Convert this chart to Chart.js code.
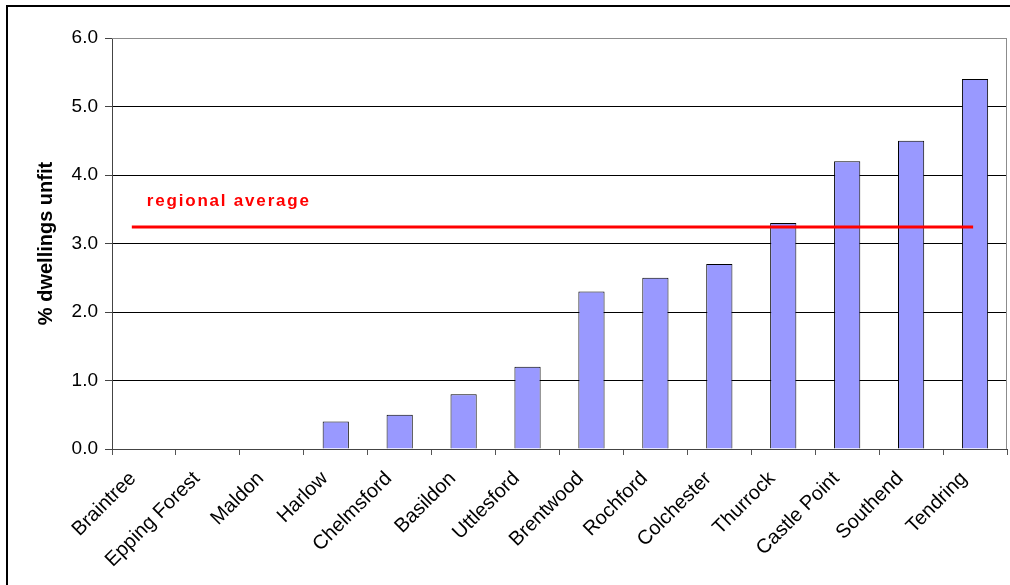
<!DOCTYPE html>
<html>
<head>
<meta charset="utf-8">
<title>Unfit dwellings by district</title>
<script src="https://cdn.jsdelivr.net/npm/chart.js@4.4.0/dist/chart.umd.min.js"></script>
<style>
    html, body { margin: 0; padding: 0; background: #fff; overflow: hidden; }
    #wrap { position: relative; width: 1010px; height: 585px; }
    #frame { position: absolute; left: 6px; top: 5px; width: 1100px; height: 700px; border: 2px solid #000; }
    #chart { position: absolute; left: 0; top: 0; }
</style>
</head>
<body>
<div id="wrap">
    <div id="frame"></div>
    <canvas id="chart" width="1010" height="585"></canvas>
</div>
<script>
    // Districts, sorted by share of unfit dwellings
    const districts = ['Braintree', 'Epping Forest', 'Maldon', 'Harlow', 'Chelmsford', 'Basildon',
        'Uttlesford', 'Brentwood', 'Rochford', 'Colchester', 'Thurrock', 'Castle Point', 'Southend', 'Tendring'];
    const unfitPct = [0, 0, 0, 0.4, 0.5, 0.8, 1.2, 2.3, 2.5, 2.7, 3.3, 4.2, 4.5, 5.4];

    // Regional average, and the span of the reference line in category units
    const regionalAvg = 3.24;
    const avgSpan = [-0.19, 12.97];

    const yTicks = [0, 1, 2, 3, 4, 5, 6];

    const FONT = 'Arial, "Liberation Sans", sans-serif';

    // Gray frame on top/right of the plot area, like the old spreadsheet charts
    const plotFrame = {
        id: 'plotFrame',
        beforeDatasetsDraw(chart) {
            const { ctx, chartArea: a } = chart;
            ctx.save();
            ctx.strokeStyle = '#8c8c8c';
            ctx.lineWidth = 1;
            ctx.beginPath();
            ctx.moveTo(a.left, a.top + 0.5);
            ctx.lineTo(a.right - 0.5, a.top + 0.5);
            ctx.lineTo(a.right - 0.5, a.bottom);
            ctx.stroke();
            ctx.restore();
        }
    };

    // Caption above the regional average line
    const avgLabel = {
        id: 'avgLabel',
        afterDatasetsDraw(chart) {
            const { ctx, scales } = chart;
            const x = scales.x2.getPixelForValue(avgSpan[0]) + 15;
            const y = scales.y.getPixelForValue(regionalAvg) - 21;
            ctx.save();
            ctx.fillStyle = '#ff0000';
            ctx.font = 'bold 17px ' + FONT;
            if ('letterSpacing' in ctx) ctx.letterSpacing = '1.8px';
            ctx.textAlign = 'left';
            ctx.textBaseline = 'alphabetic';
            ctx.fillText('regional average', x, y);
            ctx.restore();
        }
    };

    function init() {
        new Chart(document.getElementById('chart'), {
            type: 'bar',
            data: {
                labels: districts,
                datasets: [{
                    type: 'line',
                    data: avgSpan.map(v => ({ x: v, y: regionalAvg })),
                    xAxisID: 'x2',
                    yAxisID: 'y',
                    borderColor: '#ff0000',
                    borderWidth: 3,
                    pointRadius: 0,
                    fill: false,
                    order: 0
                }, {
                    data: unfitPct,
                    xAxisID: 'x',
                    yAxisID: 'y',
                    backgroundColor: '#9999ff',
                    borderColor: '#000',
                    borderWidth: 1,
                    borderSkipped: 'bottom',
                    grouped: false,
                    categoryPercentage: 1,
                    barPercentage: 0.41,
                    order: 1
                }]
            },
            options: {
                responsive: false,
                animation: false,
                layout: { padding: { left: 0, top: 38, right: 3, bottom: 0 } },
                plugins: {
                    legend: { display: false },
                    tooltip: { enabled: false }
                },
                scales: {
                    x: {
                        type: 'category',
                        offset: true,
                        grid: {
                            offset: true,
                            drawOnChartArea: false,
                            drawTicks: true,
                            tickLength: 6,
                            color: '#555'
                        },
                        border: { color: '#444', width: 1 },
                        ticks: {
                            autoSkip: false,
                            minRotation: 45,
                            maxRotation: 45,
                            padding: 12,
                            labelOffset: -11,
                            color: '#000',
                            font: { family: FONT, size: 20 }
                        },
                        afterFit: s => { s.height = 136; }
                    },
                    x2: {
                        type: 'linear',
                        offset: false,
                        min: -0.5,
                        max: districts.length - 0.5,
                        display: false
                    },
                    y: {
                        min: yTicks[0],
                        max: yTicks[yTicks.length - 1],
                        afterBuildTicks: s => { s.ticks = yTicks.map(v => ({ value: v })); },
                        grid: {
                            color: ctx => ctx.tick && ctx.tick.value === 6 ? '#8c8c8c' : '#000',
                            tickColor: '#444',
                            tickLength: 7
                        },
                        border: { color: '#444', width: 1 },
                        ticks: {
                            padding: 7,
                            color: '#000',
                            font: { family: FONT, size: 19 },
                            callback: v => v.toFixed(1)
                        },
                        title: {
                            display: true,
                            text: '% dwellings unfit',
                            color: '#000',
                            padding: { top: 34, bottom: 0 },
                            font: { family: FONT, size: 20, weight: 'bold' }
                        },
                        afterFit: s => { s.width = 112; }
                    }
                }
            },
            plugins: [plotFrame, avgLabel]
        });
    }

    document.addEventListener('DOMContentLoaded', init);
</script>
</body>
</html>
